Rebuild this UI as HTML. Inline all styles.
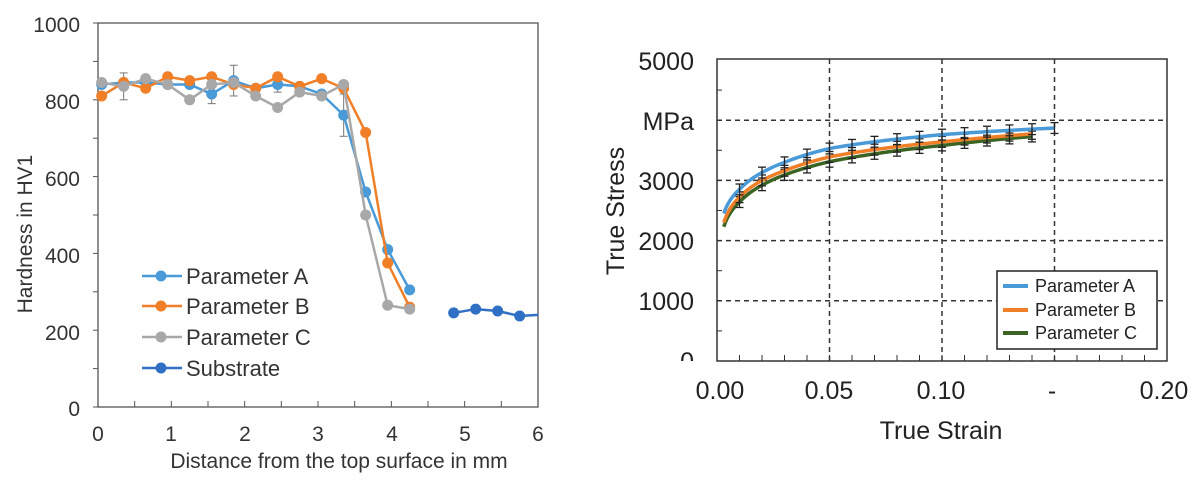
<!DOCTYPE html>
<html><head><meta charset="utf-8"><style>
html,body{margin:0;padding:0;background:#fff;}
svg{display:block;font-family:"Liberation Sans",Arial,sans-serif;}
</style></head><body>
<svg id="s" width="1201" height="503" viewBox="0 0 1201 503" xmlns="http://www.w3.org/2000/svg">
<defs><clipPath id="cl"><rect x="600" y="0" width="200" height="361"/></clipPath></defs>
<rect width="1201" height="503" fill="#fff"/>
<rect x="98" y="23" width="440" height="384" fill="none" stroke="#555" stroke-width="1.3"/>
<g font-size="21" fill="#333" text-anchor="end">
<text x="80" y="32">1000</text><text x="80" y="109">800</text><text x="80" y="186">600</text>
<text x="80" y="263">400</text><text x="80" y="340">200</text><text x="80" y="416">0</text>
</g>
<g font-size="21" fill="#333" text-anchor="middle">
<text x="98" y="441">0</text><text x="171" y="441">1</text><text x="245" y="441">2</text><text x="318" y="441">3</text>
<text x="392" y="441">4</text><text x="465" y="441">5</text><text x="538" y="441">6</text>
<text x="339" y="468">Distance from the top surface in mm</text>
</g>
<text transform="translate(32,234) rotate(-90)" font-size="21" fill="#333" text-anchor="middle">Hardness in HV1</text>
<g id="left"></g>
<g font-size="22" fill="#333">
<line x1="142" y1="276" x2="182" y2="276" stroke="#4a9ad8" stroke-width="2.5"/><circle cx="161" cy="276" r="5.5" fill="#4a9ad8"/><text x="186" y="284">Parameter A</text>
<line x1="142" y1="306" x2="182" y2="306" stroke="#f07f28" stroke-width="2.5"/><circle cx="161" cy="306" r="5.5" fill="#f07f28"/><text x="186" y="314">Parameter B</text>
<line x1="142" y1="337" x2="182" y2="337" stroke="#a8a8a8" stroke-width="2.5"/><circle cx="161" cy="337" r="5.5" fill="#a8a8a8"/><text x="186" y="345">Parameter C</text>
<line x1="142" y1="368" x2="182" y2="368" stroke="#2f6fc4" stroke-width="2.5"/><circle cx="161" cy="368" r="5.5" fill="#2f6fc4"/><text x="186" y="376">Substrate</text>
</g>
<g id="right"></g>
<rect x="717" y="59" width="450" height="302" fill="none" stroke="#333" stroke-width="1.5"/>
<g font-size="25" fill="#222" text-anchor="end">
<text x="694" y="70">5000</text><text x="694" y="130">MPa</text><text x="694" y="190">3000</text>
<text x="694" y="250">2000</text><text x="694" y="310">1000</text><text x="694" y="370" clip-path="url(#cl)">0</text>
</g>
<g font-size="25" fill="#222" text-anchor="middle">
<text x="720" y="399">0.00</text><text x="829" y="399">0.05</text><text x="941" y="399">0.10</text>
<text x="1052" y="399">-</text><text x="1164" y="399">0.20</text>
<text x="941" y="439">True Strain</text>
</g>
<text transform="translate(624,211) rotate(-90)" font-size="25" fill="#222" text-anchor="middle">True Stress</text>
<rect x="997" y="271" width="160" height="78" fill="#fff" stroke="#222" stroke-width="1.5"/>
<g font-size="18" fill="#222">
<line x1="1003" y1="286" x2="1028" y2="286" stroke="#4a9ad8" stroke-width="4"/><text x="1035" y="292">Parameter A</text>
<line x1="1003" y1="310" x2="1028" y2="310" stroke="#f07f28" stroke-width="4"/><text x="1035" y="316">Parameter B</text>
<line x1="1003" y1="333" x2="1028" y2="333" stroke="#3b6424" stroke-width="4"/><text x="1035" y="339">Parameter C</text>
</g>
</svg>
<script>
var NS="http://www.w3.org/2000/svg";
function el(p,t,a){var e=document.createElementNS(NS,t);for(var k in a)e.setAttribute(k,a[k]);p.appendChild(e);return e;}
var L=document.getElementById("left");
for(var i=0;i<=12;i++){var x=98+i*440/12;el(L,"line",{x1:x,y1:407,x2:x,y2:401,stroke:"#555"});}
for(var i=0;i<=10;i++){var y=407-i*38.4;el(L,"line",{x1:93,y1:y,x2:98,y2:y,stroke:"#555"});}
function lx(v){return 98+v*440/6;} function ly(v){return 407-v*0.384;}
var xs=[0.05,0.35,0.65,0.95,1.25,1.55,1.85,2.15,2.45,2.75,3.05,3.35,3.65,3.95,4.25];
var S={
A:["#4a9ad8",[840,845,845,840,840,815,850,830,840,835,815,760,560,410,305]],
B:["#f07f28",[810,845,830,860,850,860,840,830,860,835,855,830,715,375,260]],
C:["#a8a8a8",[845,835,855,840,800,840,845,810,780,820,810,840,500,265,255]]};
[[0.35,835,35],[1.55,815,25],[1.85,850,40],[2.45,840,20],[3.35,760,55]].forEach(function(e){
var x=lx(e[0]);el(L,"line",{x1:x,y1:ly(e[1]-e[2]),x2:x,y2:ly(e[1]+e[2]),stroke:"#777"});
[e[1]-e[2],e[1]+e[2]].forEach(function(v){el(L,"line",{x1:x-4,y1:ly(v),x2:x+4,y2:ly(v),stroke:"#777"});});});
["A","B","C"].forEach(function(k){var c=S[k][0],d=S[k][1];
el(L,"polyline",{points:xs.map(function(x,i){return lx(x)+","+ly(d[i]);}).join(" "),fill:"none",stroke:c,"stroke-width":2.5});
xs.forEach(function(x,i){el(L,"circle",{cx:lx(x),cy:ly(d[i]),r:5.5,fill:c});});});
var sx=[4.85,5.15,5.45,5.75],sy=[245,255,250,237];
el(L,"polyline",{points:sx.map(function(x,i){return lx(x)+","+ly(sy[i]);}).join(" ")+" "+lx(6)+","+ly(240),fill:"none",stroke:"#2f6fc4","stroke-width":2.5});
sx.forEach(function(x,i){el(L,"circle",{cx:lx(x),cy:ly(sy[i]),r:5.5,fill:"#2f6fc4"});});
var R=document.getElementById("right");
function rx(v){return 717+v*2250;} function ry(v){return 361-v*0.0602;}
for(var i=1;i<=4;i++){el(R,"line",{x1:717,y1:ry(i*1000),x2:1167,y2:ry(i*1000),stroke:"#333","stroke-dasharray":"5,4","stroke-width":1.5});}
for(var i=1;i<=3;i++){el(R,"line",{x1:rx(i*0.05),y1:59,x2:rx(i*0.05),y2:361,stroke:"#333","stroke-dasharray":"5,4","stroke-width":1.5});}
for(var i=1;i<20;i++){el(R,"line",{x1:rx(i*0.01),y1:361,x2:rx(i*0.01),y2:355,stroke:"#333"});}
for(var i=1;i<10;i++){el(R,"line",{x1:717,y1:ry(i*500),x2:722,y2:ry(i*500),stroke:"#333"});}
var K=[0.003,0.01,0.02,0.03,0.05,0.1,0.15];
var C=[["#3b6424",0.14,[2230,2640,2920,3090,3310,3580,3760]],["#f07f28",0.14,[2300,2720,3000,3160,3390,3640,3800]],["#4a9ad8",0.15,[2450,2850,3130,3300,3530,3760,3870]]];
function f(c,e){for(var i=0;i<K.length-1;i++){if(e<=K[i+1]+1e-9){var t=(Math.log(e)-Math.log(K[i]))/(Math.log(K[i+1])-Math.log(K[i]));return c[i]+t*(c[i+1]-c[i]);}}return c[c.length-1];}
C.forEach(function(c){var pts=[];for(var e=0.003;e<=c[1]+1e-9;e+=0.001){pts.push(rx(e)+","+ry(f(c[2],e)));}
el(R,"polyline",{points:pts.join(" "),fill:"none",stroke:c[0],"stroke-width":3.5});
for(var e=0.01;e<=c[1]+1e-9;e+=0.01){var v=f(c[2],e),x=rx(e);
el(R,"line",{x1:x,y1:ry(v-90),x2:x,y2:ry(v+90),stroke:"#222","stroke-width":1.3});
el(R,"line",{x1:x-4,y1:ry(v+90),x2:x+4,y2:ry(v+90),stroke:"#222","stroke-width":1.3});
el(R,"line",{x1:x-4,y1:ry(v-90),x2:x+4,y2:ry(v-90),stroke:"#222","stroke-width":1.3});}});
</script>
</body></html>
